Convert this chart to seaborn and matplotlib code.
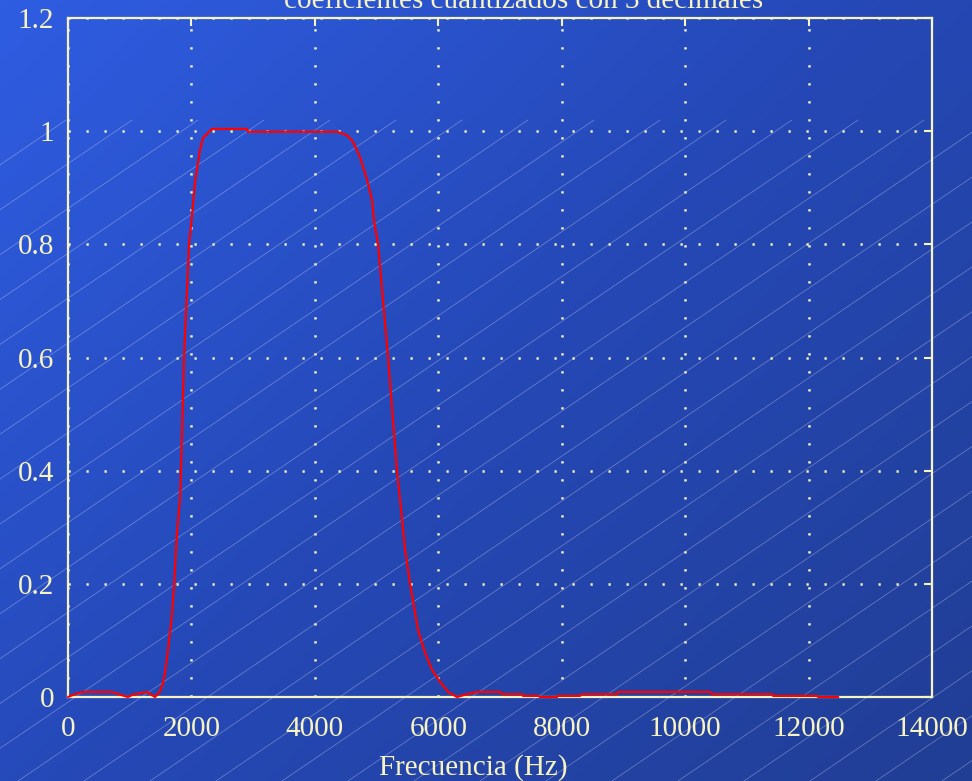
import numpy as np
import pandas as pd
import matplotlib
matplotlib.use('Agg')
import matplotlib.pyplot as plt
from matplotlib.colors import LinearSegmentedColormap
import seaborn as sns

# --------------- DATA ----------------------------------------
freq_hz = [0, 110, 250, 700, 850, 970, 1050, 1280, 1410, 1490, 1540, 1570,
           1620, 1680, 1720, 1765, 1815, 1830, 1880, 1960, 2000, 2058, 2139,
           2188, 2334, 2900, 2917, 4360, 4521, 4619, 4732, 4846, 4927, 4960,
           5024, 5105, 5186, 5330, 5381, 5462, 5543, 5672, 5786, 5899, 6029,
           6158, 6304, 6466, 6628, 7001, 7033, 7357, 7373, 7617, 7650, 7925,
           7941, 8297, 8330, 8897, 8913, 10404, 10437, 11409, 11425, 12138,
           12155, 12480]
magnitude = [0, 0.005, 0.009, 0.009, 0.004, 0, 0.004, 0.009, 0, 0.01, 0.025,
             0.042, 0.083, 0.14, 0.20, 0.29, 0.35, 0.4, 0.6, 0.8, 0.84, 0.91,
             0.967, 0.988, 1.004, 1.004, 0.999, 0.999, 0.993, 0.981, 0.954,
             0.914, 0.878, 0.84, 0.8, 0.7, 0.6, 0.4, 0.348, 0.26, 0.2, 0.118,
             0.078, 0.048, 0.027, 0.009, 0, 0.005, 0.009, 0.009, 0.005, 0.005,
             0.002, 0.002, 0, 0, 0.002, 0.002, 0.005, 0.005, 0.009, 0.009,
             0.005, 0.005, 0.002, 0.002, 0, 0]

x_ticks = [0, 2000, 4000, 6000, 8000, 10000, 12000, 14000]
y_ticks = [0, 0.2, 0.4, 0.6, 0.8, 1.0, 1.2]
y_labels = ['0', '0.2', '0.4', '0.6', '0.8', '1', '1.2']

title = 'coeficientes cuantizados con 3 decimales'
xlabel = 'Frecuencia (Hz)'

df = pd.DataFrame({'Frecuencia': freq_hz, 'Magnitud': magnitude})

# --------------- STYLE -----------------
sns.set_style('white')
plt.rcParams['font.family'] = ['Liberation Serif', 'DejaVu Serif']
cream = '#f8f4c2'
W, H = 972, 781

fig = plt.figure(figsize=(W / 100, H / 100), dpi=100)

# slide background: blue gradient with thin diagonal lines
bg = fig.add_axes([0, 0, 1, 1], zorder=-10)
gx, gy = np.meshgrid(np.linspace(0, 1, 200), np.linspace(0, 1, 160))
grad = 0.55 * gx + 0.45 * gy
cmap = LinearSegmentedColormap.from_list('slide', ['#2f5de2', '#2548b6', '#213e95'])
bg.imshow(grad, cmap=cmap, extent=[0, W, H, 0], aspect='auto')
slope = 0.68
for x0 in np.arange(-W, W + 200, 66):
    bg.plot([x0, x0 + W], [H, H - slope * W], color='white', lw=0.5, alpha=0.35)
bg.set_xlim(0, W)
bg.set_ylim(H, 0)
bg.axis('off')

# main axes
ax = fig.add_axes([68 / W, 1 - 697 / H, (932 - 68) / W, (697 - 18) / H])
ax.set_facecolor('none')

sns.lineplot(data=df, x='Frecuencia', y='Magnitud', ax=ax, color='#ff0000',
             lw=1.6, zorder=5, clip_on=False)

ax.set_xlim(0, 14000)
ax.set_ylim(0, 1.2)
ax.set_xticks(x_ticks)
ax.set_xticklabels([str(t) for t in x_ticks])
ax.set_yticks(y_ticks)
ax.set_yticklabels(y_labels)
ax.set_xlabel('')
ax.set_ylabel('')

ax.grid(True, color=cream, lw=1.8, linestyle=(0, (0.9, 6.3)))
for s in ax.spines.values():
    s.set_color(cream)
    s.set_linewidth(1.6)
    s.set_visible(True)
ax.tick_params(axis='both', direction='in', length=6, width=1.5, color=cream,
               labelcolor=cream, labelsize=21, top=True, right=True)
ax.tick_params(axis='x', pad=14)
ax.tick_params(axis='y', pad=10)

fig.text(524 / W, 1 - 8 / H, title, ha='center', va='baseline',
         color=cream, fontsize=21)
fig.text(473 / W, 1 - 775 / H, xlabel, ha='center', va='baseline',
         color=cream, fontsize=21)

fig.savefig('out.png', dpi=100)
